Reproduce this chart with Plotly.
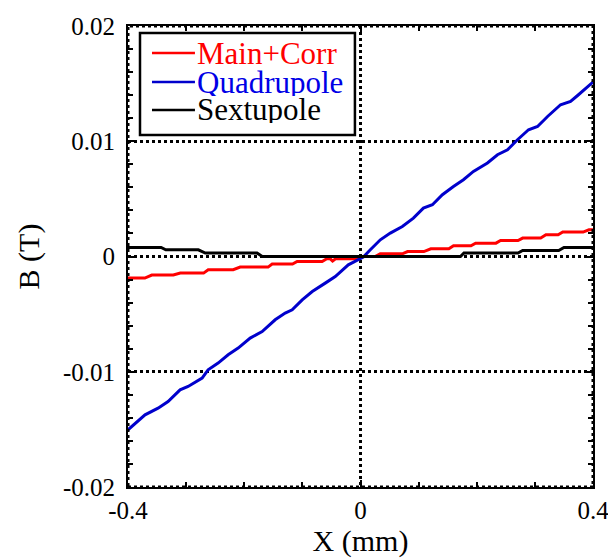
import plotly.graph_objects as go

# Field profiles across the aperture
quad_x = [-0.4, -0.3707, -0.3483, -0.3311, -0.3104, -0.2966, -0.2725, -0.2622, -0.245, -0.2277,
          -0.2105, -0.1898, -0.1692, -0.1468, -0.1296, -0.1175, -0.1003, -0.083, -0.0607, -0.0434,
          -0.021, -0.0038, 0.0048, 0.0169, 0.0341, 0.0513, 0.072, 0.091, 0.1082, 0.1237,
          0.1409, 0.1599, 0.1771, 0.1943, 0.2184, 0.2357, 0.2529, 0.2701, 0.2891, 0.3046,
          0.3218, 0.3442, 0.3614, 0.3735, 0.3959, 0.4]
quad_b = [-0.01504, -0.01374, -0.01316, -0.01258, -0.01157, -0.01128, -0.01055, -0.00983, -0.00925, -0.00853,
          -0.00795, -0.00708, -0.00651, -0.00549, -0.00491, -0.00463, -0.00376, -0.00304, -0.00231, -0.00174,
          -0.00072, -0.00029, -0.00005, 0.00058, 0.00145, 0.00203, 0.0026, 0.00333, 0.0042, 0.00449,
          0.00536, 0.00608, 0.00666, 0.00738, 0.00811, 0.00883, 0.00926, 0.01013, 0.011, 0.01128,
          0.01215, 0.01317, 0.01345, 0.01397, 0.0149, 0.01514]

main_x = [-0.4, -0.371, -0.359, -0.322, -0.31, -0.27, -0.262, -0.219, -0.207, -0.159,
          -0.152, -0.117, -0.109, -0.066, -0.058, -0.052, -0.048, -0.043, -0.003, 0.005,
          0.025, 0.034, 0.072, 0.081, 0.109, 0.121, 0.152, 0.16, 0.19, 0.198,
          0.233, 0.241, 0.271, 0.279, 0.31, 0.319, 0.34, 0.348, 0.383, 0.393, 0.4]
main_b = [-0.00187, -0.00187, -0.00161, -0.00161, -0.00144, -0.00144, -0.00115, -0.00115, -0.00092, -0.00092,
          -0.00066, -0.00066, -0.00043, -0.00043, -0.0002, -0.0002, -0.0004, -0.0002, -0.0002, 0.0,
          0.0, 0.00023, 0.00023, 0.00043, 0.00043, 0.00067, 0.00067, 0.00093, 0.00093, 0.00116,
          0.00116, 0.00139, 0.00139, 0.0016, 0.0016, 0.00188, 0.00188, 0.00212, 0.00212, 0.00232, 0.00232]

sext_x = [-0.4, -0.343, -0.335, -0.279, -0.267, -0.178, -0.169, 0.172, 0.178, 0.271,
          0.279, 0.341, 0.35, 0.4]
sext_b = [0.00078, 0.00078, 0.00058, 0.00058, 0.0003, 0.0003, 0.0, 0.0, 0.0003, 0.0003,
          0.00052, 0.00052, 0.00078, 0.00078]

series_names = ["Main+Corr", "Quadrupole", "Sextupole"]
line_colors = ["#ff0000", "#0000cc", "#000000"]
text_colors = ["#ff0000", "#0000e6", "#000000"]

x_ticks = [-0.4, 0, 0.4]
x_tick_text = ["-0.4", "0", "0.4"]
y_ticks = [-0.02, -0.01, 0, 0.01, 0.02]
y_tick_text = ["-0.02", "-0.01", "0", "0.01", "0.02"]

FONT = "Liberation Serif"

fig = go.Figure()
for xs, ys, name, col in zip([main_x, quad_x, sext_x], [main_b, quad_b, sext_b],
                             series_names, line_colors):
    fig.add_trace(go.Scatter(x=xs, y=ys, mode="lines", name=name,
                             line=dict(color=col, width=3), showlegend=False))

axis_common = dict(
    showline=True, linecolor="black", linewidth=2, mirror="allticks",
    ticks="inside", ticklen=7, tickwidth=2, tickcolor="black",
    showgrid=True, gridcolor="black", gridwidth=3, griddash="dot",
    zeroline=False, tickfont=dict(family=FONT, size=25, color="black"),
    ticklabeloverflow="allow", automargin=False,
)

fig.update_xaxes(range=[-0.4, 0.4], tickvals=x_ticks, ticktext=x_tick_text,
                 minor=dict(dtick=0.1, tick0=0, ticks="inside", ticklen=5, tickwidth=2,
                            tickcolor="black", showgrid=False),
                 title=dict(text="X (mm)", font=dict(family=FONT, size=30, color="black"), standoff=6),
                 **axis_common)
fig.update_yaxes(range=[-0.02, 0.02], tickvals=y_ticks, ticktext=y_tick_text,
                 ticklabelstandoff=6,
                 minor=dict(dtick=0.002, tick0=0, ticks="inside", ticklen=5, tickwidth=2,
                            tickcolor="black", showgrid=False),
                 title=dict(text="B (T)", font=dict(family=FONT, size=30, color="black"), standoff=14),
                 **axis_common)

# dotted overlay on the frame
fig.add_shape(type="rect", xref="paper", yref="paper", x0=0, x1=1, y0=0, y1=1,
              line=dict(color="black", width=3, dash="dot"), layer="above")

# legend box
box = dict(x0=0.0258, x1=0.488, y0=0.7636, y1=0.985)
fig.add_shape(type="rect", xref="paper", yref="paper", **box,
              line=dict(color="black", width=2.5), fillcolor="white", layer="above")
rows_y = [0.9414, 0.8785, 0.8178]
for ry, name, lc, tc in zip(rows_y, series_names, line_colors, text_colors):
    fig.add_shape(type="line", xref="paper", yref="paper", x0=0.0516, x1=0.144, y0=ry, y1=ry,
                  line=dict(color=lc, width=2.5), layer="above")
    fig.add_annotation(xref="paper", yref="paper", x=0.146, y=ry, text=name, showarrow=False,
                       xanchor="left", yanchor="middle", borderpad=0, height=27,
                       font=dict(family=FONT, size=31, color=tc))

fig.update_layout(
    width=608, height=559,
    margin=dict(l=128, r=15, t=26, b=72),
    paper_bgcolor="white", plot_bgcolor="white",
    font=dict(family=FONT, color="black"),
)

fig.write_html("out.html")
